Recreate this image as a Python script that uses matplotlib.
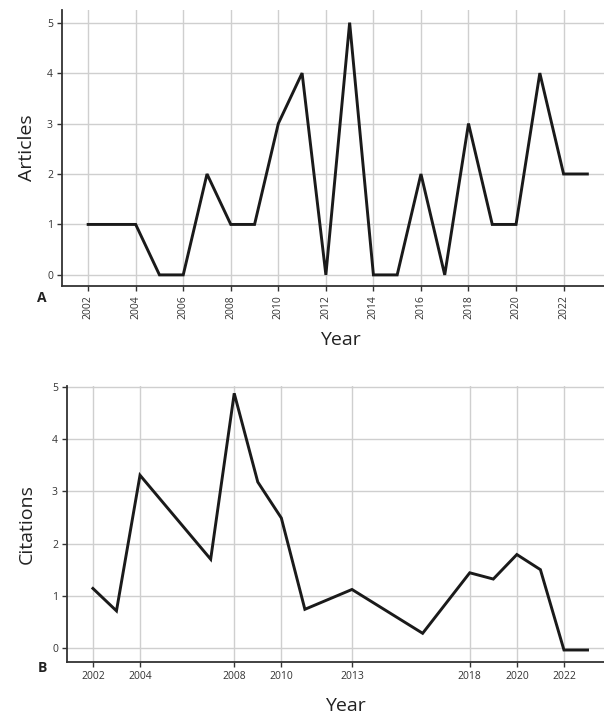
import matplotlib
matplotlib.use("Agg")
import matplotlib.pyplot as plt

years_a = [2002, 2003, 2004, 2005, 2006, 2007, 2008, 2009, 2010, 2011, 2012,
           2013, 2014, 2015, 2016, 2017, 2018, 2019, 2020, 2021, 2022, 2023]
articles = [1, 1, 1, 0, 0, 2, 1, 1, 3, 4, 0, 5, 0, 0, 2, 0, 3, 1, 1, 4, 2, 2]
ticks_a = [2002, 2004, 2006, 2008, 2010, 2012, 2014, 2016, 2018, 2020, 2022]

years_b = [2002, 2003, 2004, 2007, 2008, 2009, 2010, 2011, 2013, 2016,
           2018, 2019, 2020, 2021, 2022, 2023]
citations = [1.14, 0.71, 3.31, 1.70, 4.88, 3.18, 2.49, 0.74, 1.12, 0.28,
             1.44, 1.32, 1.79, 1.50, -0.04, -0.04]
ticks_b = [2002, 2004, 2008, 2010, 2013, 2018, 2020, 2022]
yticks = [0, 1, 2, 3, 4, 5]

plt.rcParams['font.family'] = ['Open Sans', 'DejaVu Sans']

fig = plt.figure(figsize=(6.04, 7.17), dpi=100)
axA = fig.add_axes([62/604, 1-286/717, 542/604, 276/717])
axB = fig.add_axes([67/604, 1-662/717, 537/604, 276/717])

def style(ax):
    for s in ['top', 'right']:
        ax.spines[s].set_visible(False)
    for s in ['left', 'bottom']:
        ax.spines[s].set_color('#333333')
        ax.spines[s].set_linewidth(1.3)
    ax.grid(True, color='#cfcfcf', linewidth=1.0)
    ax.set_axisbelow(True)
    ax.tick_params(axis='both', length=3.5, width=1.0, color='#333333',
                   labelsize=7.5, labelcolor='#333333', pad=3)
    ax.set_yticks(yticks)

axA.plot(years_a, articles, color='#1a1a1a', linewidth=2.1, solid_joinstyle='miter')
style(axA)
axA.set_xlim(2000.9, 2023.7)
axA.set_ylim(-0.22, 5.25)
axA.set_xticks(ticks_a)
axA.set_xticklabels([str(t) for t in ticks_a], rotation=90)
axA.set_ylabel('Articles', fontsize=14, color='#222222', labelpad=8)
axA.set_xlabel('Year', fontsize=14, color='#222222', va='center')
axA.xaxis.set_label_coords((340-62)/542, -(340-286)/276)
fig.text(42/604, 1-298/717, 'A', fontsize=10, fontweight='bold', ha='center', va='center', color='#222222')

axB.plot(years_b, citations, color='#1a1a1a', linewidth=2.1, solid_joinstyle='miter')
style(axB)
axB.set_xlim(2000.9, 2023.7)
axB.set_ylim(-0.27, 5.02)
axB.set_xticks(ticks_b)
axB.set_xticklabels([str(t) for t in ticks_b])
axB.set_ylabel('Citations', fontsize=14, color='#222222', labelpad=12)
axB.set_xlabel('Year', fontsize=14, color='#222222', va='center')
axB.xaxis.set_label_coords((345-67)/537, -(706-662)/276)
fig.text(42/604, 1-668/717, 'B', fontsize=10, fontweight='bold', ha='center', va='center', color='#222222')

fig.savefig('out.png', dpi=100)
